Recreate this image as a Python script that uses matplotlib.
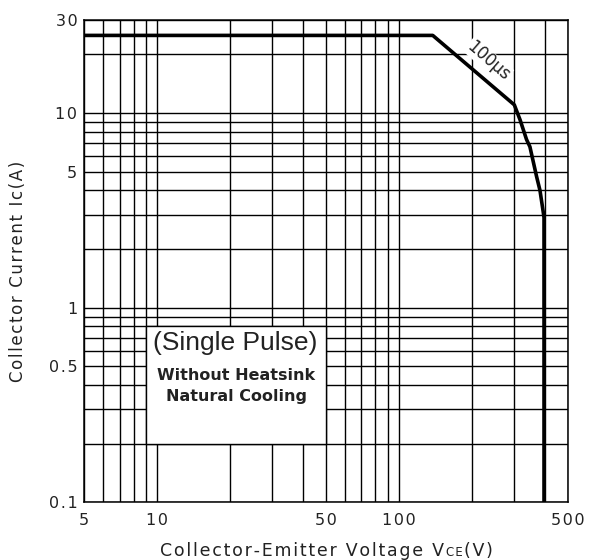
import matplotlib
matplotlib.use("Agg")
import matplotlib.pyplot as plt
from matplotlib.patches import Rectangle
from matplotlib.ticker import FixedLocator, NullFormatter

# safe operating area curve
vce = [5, 138, 300, 317, 337, 348, 371, 383, 395, 398, 398]
ic = [25, 25, 11, 9.2, 7.3, 6.7, 4.7, 4.0, 3.1, 2.9, 0.1]

x_major = [5, 10, 50, 100, 500]
x_labels = ["5", "10", "50", "100", "500"]
x_minor = [6, 7, 8, 9, 20, 30, 40, 60, 70, 80, 90, 200, 300, 400]

y_major = [0.1, 0.5, 1, 5, 10, 30]
y_labels = ["0.1", "0.5", "1", "5", "10", "30"]
y_minor = [0.2, 0.3, 0.4, 0.6, 0.7, 0.8, 0.9, 2, 3, 4, 6, 7, 8, 9, 20]

# white note box spans these grid cells
box_v = [9, 50]
box_i = [0.2, 0.8]

font = "DejaVu Sans"
ink = "#222222"


def spaced(s):
    # the datasheet font is letter-spaced, fake it with hair spaces
    return "\u200a".join(s)


fig = plt.figure(figsize=(5.89, 5.60), dpi=100)
ax = fig.add_axes([0.1431, 0.1030, 0.8212, 0.8613])
ax.set_xscale("log")
ax.set_yscale("log")
ax.set_xlim(5, 500)
ax.set_ylim(0.1, 30)

ax.xaxis.set_major_locator(FixedLocator(x_major))
ax.xaxis.set_minor_locator(FixedLocator(x_minor))
ax.yaxis.set_major_locator(FixedLocator(y_major))
ax.yaxis.set_minor_locator(FixedLocator(y_minor))
ax.set_xticklabels([spaced(t) for t in x_labels], family=font, fontsize=11.5, color=ink)
ax.set_yticklabels([spaced(t) for t in y_labels], family=font, fontsize=11.5, color=ink)
ax.xaxis.set_minor_formatter(NullFormatter())
ax.yaxis.set_minor_formatter(NullFormatter())
ax.tick_params(which="both", length=0)
ax.tick_params(axis="x", pad=8)
ax.tick_params(axis="y", pad=5)

ax.grid(True, which="both", color="black", linewidth=1.0)
ax.set_axisbelow(True)
for s in ax.spines.values():
    s.set_linewidth(1.1)

ax.add_patch(Rectangle((box_v[0], box_i[0]), box_v[1] - box_v[0], box_i[1] - box_i[0],
                       facecolor="white", edgecolor="black", linewidth=1.0, zorder=2))

ax.plot(vce, ic, color="black", linewidth=2.6, zorder=3, solid_joinstyle="round")

ax.text(234, 18.6, "100\u00b5s", family=font, fontsize=12, rotation=-41,
        ha="center", va="center", zorder=4, color=ink,
        bbox=dict(facecolor="white", edgecolor="none", pad=0.5))

fig.text(235 / 589, 1 - 343 / 560, "(Single Pulse)", family="Liberation Sans",
         fontsize=19, ha="center", va="center", color=ink, zorder=5)
fig.text(236.5 / 589, 1 - 375 / 560, "Without Heatsink", family=font,
         fontsize=11.5, fontweight="bold", ha="center", va="center", color=ink)
fig.text(237 / 589, 1 - 396.7 / 560, "Natural Cooling", family=font,
         fontsize=11.5, fontweight="bold", ha="center", va="center", color=ink)

fig.text(18 / 589, 1 - 271 / 560, spaced("Collector Current Ic(A)"), family=font,
         fontsize=12, rotation=90, ha="center", va="center", color=ink)

# x label with small-cap "CE" on the same baseline
base_y = 1 - 556 / 560
t1 = fig.text(160 / 589, base_y, spaced("Collector-Emitter Voltage V"), family=font,
              fontsize=12.5, ha="left", va="baseline", color=ink)
fig.canvas.draw()
r = fig.canvas.get_renderer()
x1 = t1.get_window_extent(r).x1 / fig.bbox.width + 1.5 / 589
t2 = fig.text(x1, base_y, spaced("CE"), family=font, fontsize=8.5, ha="left",
              va="baseline", color=ink)
fig.canvas.draw()
x2 = t2.get_window_extent(r).x1 / fig.bbox.width + 1.5 / 589
fig.text(x2, base_y, spaced("(V)"), family=font, fontsize=12.5, ha="left",
         va="baseline", color=ink)

fig.savefig("out.png", dpi=100)
